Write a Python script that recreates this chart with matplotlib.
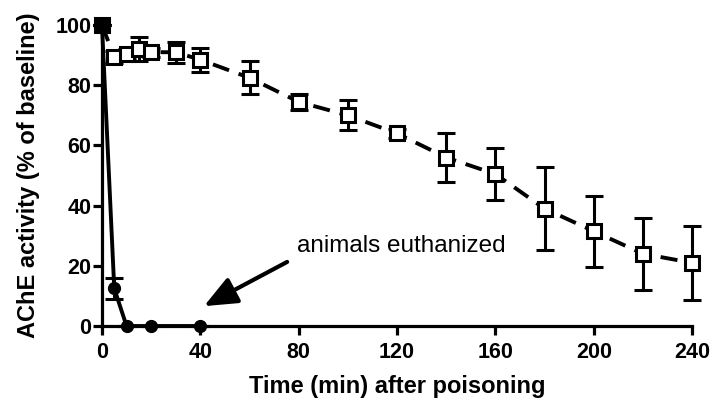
import matplotlib
matplotlib.use("Agg")
import matplotlib.pyplot as plt

plt.rcParams['font.family'] = ['Liberation Sans', 'DejaVu Sans']

# Open squares (dashed)
t_sq = [0, 5, 10, 15, 20, 30, 40, 60, 80, 100, 120, 140, 160, 180, 200, 220, 240]
y_sq = [100, 89.5, 90.5, 92, 91, 91, 88.5, 82.5, 74.5, 70, 64, 56, 50.5, 39, 31.5, 24, 21]
e_sq = [0, 2, 1.5, 4, 1.5, 3.5, 4, 5.5, 2.7, 5, 1.5, 8, 8.5, 13.7, 11.8, 12, 12.3]

# Filled circles (solid)
t_ci = [0, 5, 10, 20, 40]
y_ci = [100, 12.5, 0, 0, 0]
e_ci = [0, 3.5, 0, 0, 0]

xticks = [0, 40, 80, 120, 160, 200, 240]
yticks = [0, 20, 40, 60, 80, 100]

fig = plt.figure(figsize=(7.18, 4.12), dpi=100)
ax = fig.add_axes([0.142, 0.2087, 0.822, 0.7303])

lw = 2.3
ax.errorbar(t_sq, y_sq, yerr=e_sq, fmt='s', color='black', mfc='white', mec='black',
            ms=10, mew=2.2, ecolor='black', elinewidth=2.2, capsize=6.5, capthick=2.2,
            linestyle=(0, (4.4, 2.6)), lw=2.8, zorder=3, clip_on=False)
ax.plot(t_sq[:1], y_sq[:1], 's', color='black', ms=10, zorder=5, clip_on=False)
ax.errorbar(t_ci, y_ci, yerr=e_ci, fmt='o', color='black', ms=8.5,
            ecolor='black', elinewidth=2.2, capsize=6.5, capthick=2.2,
            linestyle='-', lw=2.8, zorder=4, clip_on=False)

ax.text(79.3, 24.6, 'animals euthanized', fontsize=17.5, ha='left', va='baseline')
ax.annotate('', xy=(41.5, 6.6), xytext=(75.3, 21.3),
            arrowprops=dict(arrowstyle='-|>,head_length=2.0,head_width=0.85',
                            color='black', lw=3, shrinkA=0, shrinkB=0))

ax.set_xlim(0, 240)
ax.set_ylim(0, 100)
ax.set_xticks(xticks)
ax.set_yticks(yticks)
for s in ['top', 'right']:
    ax.spines[s].set_visible(False)
for s in ['left', 'bottom']:
    ax.spines[s].set_linewidth(lw)
ax.tick_params(axis='both', direction='out', length=6.5, width=lw, labelsize=15.5)
ax.tick_params(axis='x', pad=5)
ax.tick_params(axis='y', pad=1)
for lab in ax.get_xticklabels() + ax.get_yticklabels():
    lab.set_fontweight('bold')
ax.set_xlabel('Time (min) after poisoning', fontsize=17, fontweight='bold', labelpad=9)
ax.set_ylabel('AChE activity (% of baseline)', fontsize=17, fontweight='bold', labelpad=11)

fig.savefig('out.png', dpi=100)
